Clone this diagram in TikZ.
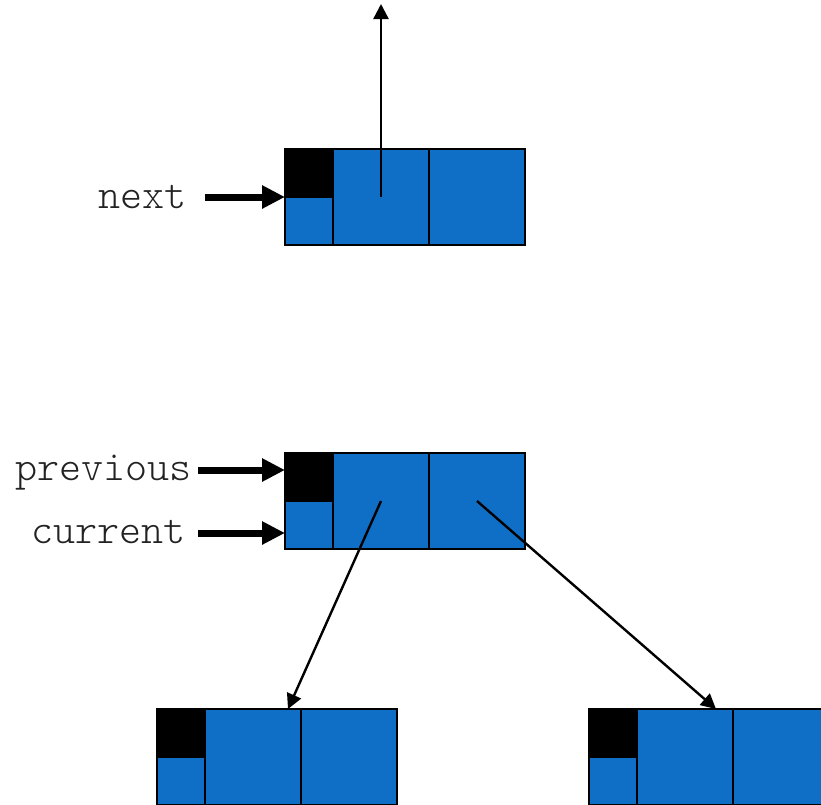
\documentclass[tikz,border=0pt]{standalone}
\usepackage{fontspec}
\setmonofont{Latin Modern Mono Light}
\usetikzlibrary{arrows.meta}
\definecolor{cellblue}{HTML}{0F6FC6}
\definecolor{labelgray}{HTML}{222222}
\tikzset{
  cell/.style={rectangle, draw=black, line width=2pt, fill=cellblue,
               inner sep=0pt, outer sep=0pt},
  tagcell/.style={cell, fill=black, minimum width=48pt, minimum height=48pt},
  halfcell/.style={cell, minimum width=48pt, minimum height=48pt},
  fieldcell/.style={cell, minimum width=96pt, minimum height=96pt},
  varname/.style={font=\ttfamily\fontsize{42}{42}\selectfont, text=labelgray,
                  inner sep=0pt, anchor=base east},
  fatarrow/.style={line width=7pt, -{Triangle[length=23pt,width=22pt]}},
  link/.style={line width=2.4pt, -{Triangle[length=15pt,width=15pt]}},
}
% one record: tag square, small half cell, two fields; #2,#3 = top-left corner
\newcommand\drawrecord[3]{%
  \node[fieldcell] (#1-c) at (#2+96,#3+48) {};
  \node[fieldcell] (#1-d) at (#2+192,#3+48) {};
  \node[halfcell]  (#1-b) at (#2+24,#3+72) {};
  \node[tagcell]   (#1-a) at (#2+24,#3+24) {};
}
\begin{document}
\begin{tikzpicture}[x=1pt, y=-1pt]
  \useasboundingbox (0,0) rectangle (821,804);
  \clip (0,0) rectangle (821,804);
  \fill[white] (0,0) rectangle (821,804);

  % records
  \drawrecord{top}{285}{149}
  \drawrecord{mid}{285}{453}
  \drawrecord{bl}{157}{709}
  \drawrecord{br}{589}{709}

  % variable names (placed by baseline)
  \node[varname] (lblnext) at (187,208) {next};
  \node[varname] (lblprev) at (192,480) {previous};
  \node[varname] (lblcur)  at (186,543) {current};

  \draw[fatarrow] ([xshift=18pt,yshift=11pt]lblnext.base east) -- (top-a.west |- 0,197);
  \draw[fatarrow] ([xshift=6pt,yshift=10pt]lblprev.base east) -- (mid-a.west |- 0,470);
  \draw[fatarrow] ([xshift=12pt,yshift=10pt]lblcur.base east) -- (mid-b.west |- 0,533);

  % link targets
  \coordinate (up)    at (381,4);
  \coordinate (blin)  at (288,709);
  \coordinate (brin)  at (716,709);

  \draw[link] (top-c.center) -- (up);
  \draw[link] (mid-c.center) -- (blin);
  \draw[link] (mid-d.center) -- (brin);
\end{tikzpicture}
\end{document}
